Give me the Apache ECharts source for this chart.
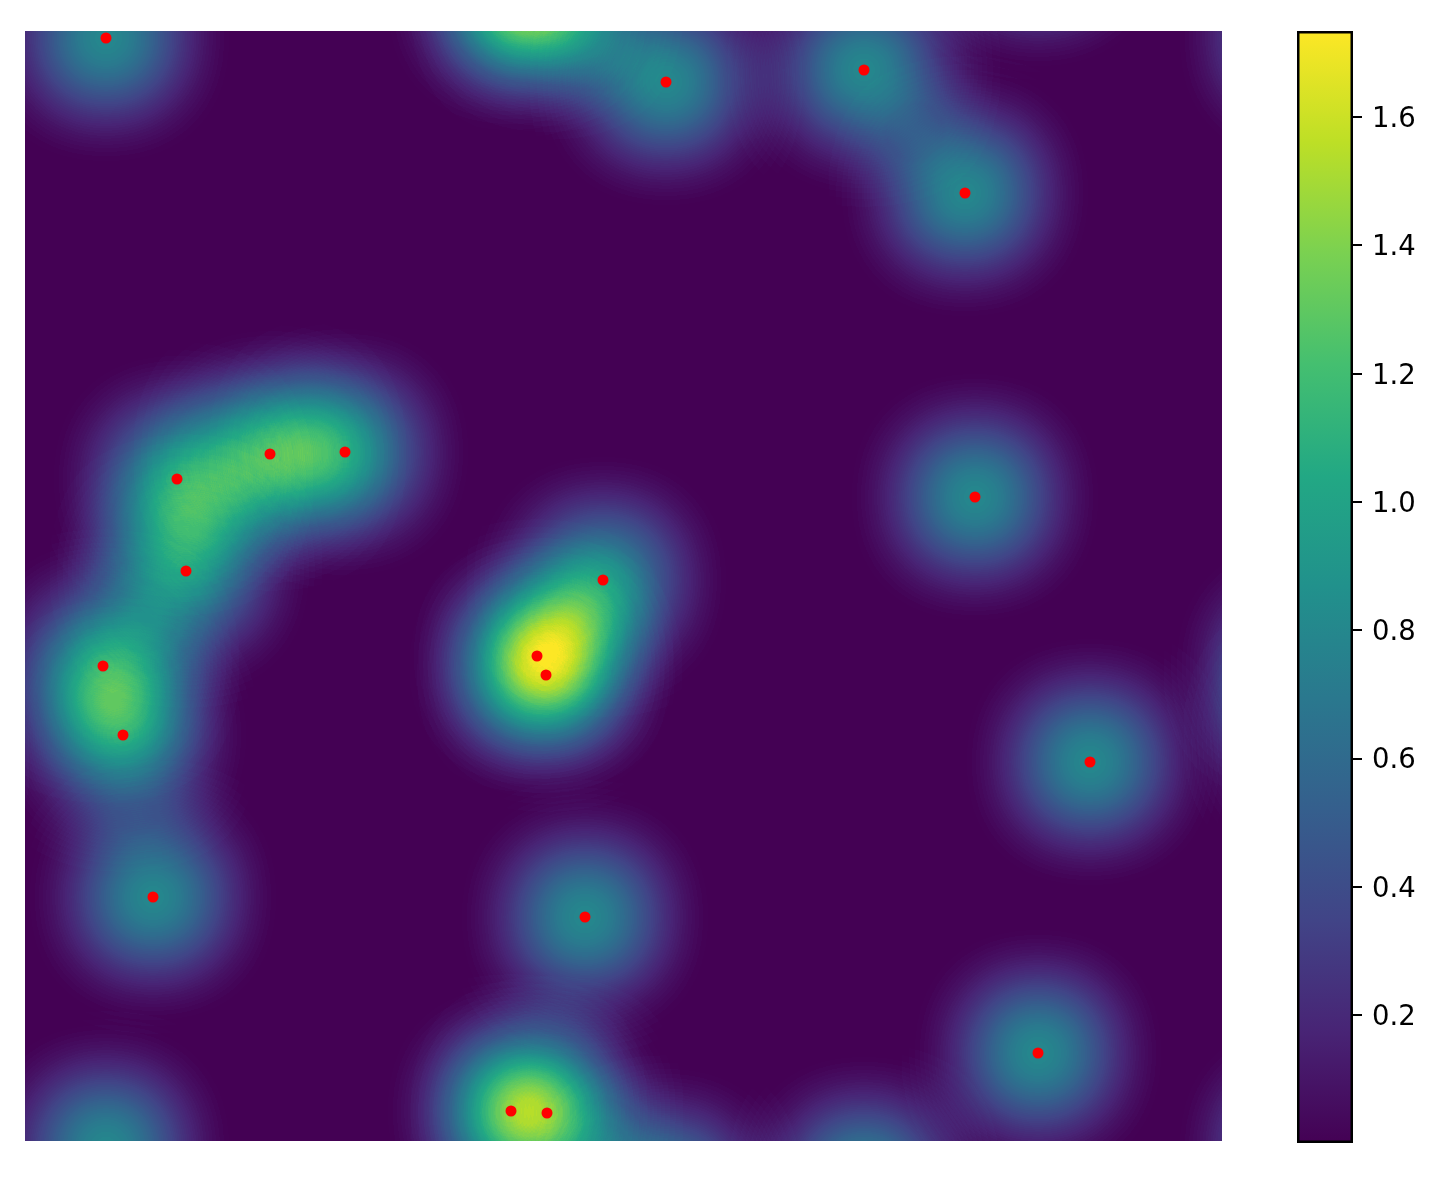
<!DOCTYPE html>
<html>
<head>
    <meta charset="utf-8"/>
    <title></title>
    <script src="https://cdn.jsdelivr.net/npm/echarts@6/dist/echarts.min.js"></script>
    <style>html,body{margin:0;padding:0;background:#fff}</style>
</head>
<body>
<div id="chart" style="width:1454px;height:1182px;"></div>
<script type="text/javascript">

// points, x right and y up inside the plot frame
var pointX = [81, 641, 839, 940, 245, 320, 152, 161, 950, 578, 512, 521, 78, 98, 1065, 128, 560, 1013, 486, 522];
var pointY = [1103, 1059, 1071, 948, 687, 689, 662, 570, 644, 561, 485, 466, 475, 406, 379, 244, 224, 88, 30, 28];

// blobs whose centre sits outside the frame, only their edge shows
var outsideX = [486, 522, 81, 641, 839, 940, 1275, 1295, 1278, 1278, -132, -184, 1013, 1325];
var outsideY = [1140, 1138, -7, -51, -39, -162, 475, 406, 1103, -7, 379, 88, 1198, 244];

var viridis = ['#440154', '#482475', '#414487', '#355f8d', '#2a788e', '#21918c', '#22a884', '#44bf70', '#7ad151', '#bddf26', '#fde725'];
var barMin = 0.0033;
var barMax = 1.734;
var barTicks = [0.2, 0.4, 0.6, 0.8, 1.0, 1.2, 1.4, 1.6];

var pointWeight = 1;
var alphaScale = 3.8;
var tailCut = 0.04; // hides the square cut-off of the blur brush

// heat layer stacks alpha with source-over, so colours are placed on -log(1-alpha)
function hexToRgb(h) {
    return [parseInt(h.substr(1, 2), 16), parseInt(h.substr(3, 2), 16), parseInt(h.substr(5, 2), 16)];
}
function viridisAt(t) {
    t = Math.min(1, Math.max(0, t)) * (viridis.length - 1);
    var i = Math.min(viridis.length - 2, Math.floor(t));
    var a = hexToRgb(viridis[i]), b = hexToRgb(viridis[i + 1]), f = t - i;
    return 'rgb(' + Math.round(a[0] + (b[0] - a[0]) * f) + ',' + Math.round(a[1] + (b[1] - a[1]) * f) + ',' + Math.round(a[2] + (b[2] - a[2]) * f) + ')';
}
var heatPalette = [];
for (var i = 0; i < 256; i++) {
    var alpha = Math.min(i / 255, 0.999);
    heatPalette.push(viridisAt((-alphaScale * Math.log(1 - alpha) - tailCut) / barMax));
}

var heatData = [], dotData = [];
for (var i = 0; i < pointX.length; i++) {
    heatData.push([pointX[i], pointY[i], pointWeight]);
    dotData.push([pointX[i], pointY[i]]);
}
for (var i = 0; i < outsideX.length; i++) {
    heatData.push([outsideX[i], outsideY[i], pointWeight]);
}

echarts.registerMap('frame', {
    type: 'FeatureCollection',
    features: [{
        type: 'Feature',
        properties: {name: 'frame'},
        geometry: {type: 'Polygon', coordinates: [[[0, 0], [1197, 0], [1197, 1110], [0, 1110], [0, 0]]]}
    }]
});

var barStops = [];
for (var i = 0; i < viridis.length; i++) {
    barStops.push({offset: i / (viridis.length - 1), color: viridis[i]});
}

var chart = echarts.init(document.getElementById('chart'));
var option = {
    animation: false,
    backgroundColor: '#fff',
    geo: {
        map: 'frame',
        roam: false,
        silent: true,
        aspectScale: 1,
        left: 25,
        top: 31,
        width: 1197,
        height: 1110,
        label: {show: false},
        itemStyle: {areaColor: '#440154', borderWidth: 0}
    },
    visualMap: {
        show: false,
        type: 'continuous',
        seriesIndex: 0,
        dimension: 2,
        min: 0,
        max: 1,
        inRange: {color: heatPalette}
    },
    grid: {left: 1297, top: 31, width: 56, height: 1110},
    xAxis: {type: 'category', data: ['bar'], show: false},
    yAxis: {
        type: 'value',
        position: 'right',
        min: barMin,
        max: barMax,
        splitLine: {show: false},
        axisLine: {show: false},
        axisTick: {show: true, length: 9, customValues: barTicks, lineStyle: {color: '#000', width: 2}},
        axisLabel: {
            margin: 19,
            verticalAlign: 'top',
            lineHeight: 6,
            color: '#000',
            fontFamily: 'DejaVu Sans',
            fontSize: 27.5,
            customValues: barTicks,
            formatter: function (v) { return v.toFixed(1); }
        }
    },
    series: [{
        type: 'heatmap',
        coordinateSystem: 'geo',
        geoIndex: 0,
        pointSize: 35,
        blurSize: 105,
        minOpacity: 1,
        maxOpacity: 1,
        silent: true,
        data: heatData
    }, {
        type: 'scatter',
        coordinateSystem: 'geo',
        geoIndex: 0,
        symbolSize: 11,
        silent: true,
        z: 5,
        itemStyle: {color: '#ff0000', opacity: 1},
        data: dotData
    }, {
        type: 'bar',
        xAxisIndex: 0,
        yAxisIndex: 0,
        barWidth: '100%',
        silent: true,
        clip: false,
        itemStyle: {
            borderColor: '#000',
            borderWidth: 2.5,
            color: new echarts.graphic.LinearGradient(0, 1, 0, 0, barStops)
        },
        data: [barMax]
    }]
};
chart.setOption(option);

</script>
</body>
</html>
